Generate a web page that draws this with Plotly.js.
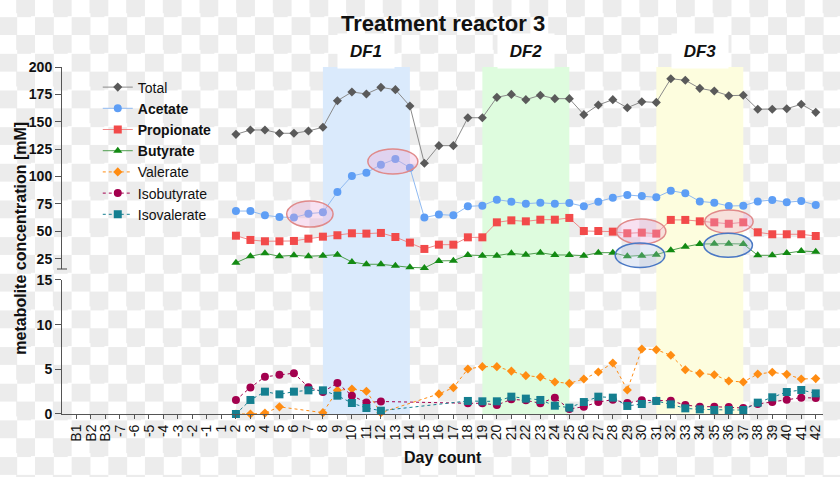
<!DOCTYPE html>
<html>
<head>
<meta charset="utf-8">
<script src="https://cdn.plot.ly/plotly-3.0.1.min.js"></script>
<style>
html,body{margin:0;padding:0;}
body{
  width:840px;height:477px;overflow:hidden;
  background-image:repeating-conic-gradient(#ececec 0% 25%, #ffffff 0% 50%);
  background-size:36.67px 36.67px;
  background-position:-1.67px -1.67px;
}
#chart{width:840px;height:477px;}
</style>
</head>
<body>
<div id="chart"></div>
<script>
// ---- categories (x axis tick labels) ----
const categories = ['B1','B2','B3','-7','-6','-5','-4','-3','-2','-1','1',
  '2','3','4','5','6','7','8','9','10','11','12','13','14','15','16','17','18','19','20',
  '21','22','23','24','25','26','27','28','29','30','31','32','33','34','35','36','37','38','39','40','41','42'];

// no measurements for B1..B3, -7..-1 and day 1
const noData = [null,null,null,null,null,null,null,null,null,null,null];

// ---- upper panel series (days 2..42) ----
const total = [138.5,142.5,142.5,139.5,139.5,141.6,145,169.2,177.2,
  175.4,181.4,179.3,164.4,112.1,128.2,128.2,153.7,153.7,172.3,
  175,170.2,174.2,171.1,171.1,156.5,165.3,170.2,162.8,168.3,
  167.7,189.3,187.9,180.5,178.1,173.8,174.2,161.4,161.4,161.9,166,158.6];
const acetate = [68.5,68.5,64.6,63.1,62.5,66.1,67.3,85.9,100.5,
  103.5,110.8,116,108.1,62.5,65.3,64.6,72.8,73.4,78.9,
  77,75.2,76.1,75.2,75.8,72.8,77,80.7,83.2,82.2,
  81,87.1,84.7,77.3,76.1,73.1,73.4,77.3,78.6,76.5,77.7,74];
const propionate = [46,42.1,40.9,40.9,41.2,43.3,45.1,46.4,48.2,
  47.9,48.5,44.8,39.7,33.9,37.8,37.8,44.5,44.5,58.2,
  60,59.1,60.6,60.6,62.2,50.3,50.3,49.7,48.2,48.8,
  47.9,60.4,60.4,59.1,58.2,56.9,58.2,49.1,47.3,47.3,47.3,45.7];
const butyrate = [21.3,27.2,29.9,27.2,28.1,27.2,27.8,28.7,22,
  19.9,19.9,18.6,17.1,16.6,23,23.2,28.4,27.8,27.8,
  29.9,28.7,30.5,28.4,28.4,27.8,30.5,30.5,27.2,27.8,
  28.7,32.6,35.9,38.4,38.7,38.7,38.4,28.1,28.1,30.2,32,31.4];

// ---- lower panel series (days 2..42) ----
const valerate = [0,0,0.1,0.8,null,null,0.15,2.65,2.8,
  2.54,0.15,null,null,null,2.25,2.95,5.04,5.3,5.3,
  4.8,4.29,4.14,3.58,3.43,3.92,4.7,5.71,2.69,7.28,
  7.2,6.57,4.96,4.55,4.4,3.7,3.58,4.48,4.67,4.44,3.92,3.96];
const isobutyrate = [1.57,2.97,4.16,4.4,4.57,3.0,2.45,3.48,2.05,
  1.29,1.4,null,null,null,null,null,1.2,1.2,1.0,
  1.64,1.53,1.2,1.83,0.56,0.82,1.34,1.6,1.23,1.53,
  1.49,1.49,1.0,0.82,0.82,0.78,0.67,1.12,1.34,1.6,1.83,1.79];
const isovalerate = [0,1.57,2.5,2.2,2.5,2.65,2.65,2.05,1.23,
  0.67,0.37,null,null,null,null,null,1.46,1.42,1.42,
  1.94,1.72,1.57,0.93,0.71,1.34,1.94,1.83,0.9,1.12,
  1.46,1.08,0.63,0.52,0.45,0.45,0.45,1.27,1.87,2.46,2.69,2.31];

// ---- feeding periods ----
const periods = [
  {label:'DF1', start:'8',  end:'14', color:'rgb(218,234,252)'},
  {label:'DF2', start:'19', end:'25', color:'rgb(222,252,222)'},
  {label:'DF3', start:'31', end:'37', color:'rgb(253,253,222)'}
];

const FONT = 'Liberation Sans, Arial, sans-serif';
const full = a => noData.concat(a);
const idx = c => categories.indexOf(c);

function upper(name, y, color, lineColor, symbol, size){
  return {type:'scatter', mode:'lines+markers', name:name, x:categories, y:full(y),
    xaxis:'x', yaxis:'y2', line:{color:lineColor, width:1},
    marker:{color:color, symbol:symbol, size:size}, cliponaxis:false};
}
function lower(name, y, color, symbol, size){
  return {type:'scatter', mode:'lines+markers', name:name, x:categories, y:full(y),
    xaxis:'x', yaxis:'y', connectgaps:true, line:{color:color, width:1, dash:'dot'},
    marker:{color:color, symbol:symbol, size:size}, cliponaxis:false};
}

const traces = [
  upper('Total', total, '#5a5a5a', '#8a8a8a', 'diamond', 7),
  upper('<b>Acetate</b>', acetate, '#5e9ef5', '#8fbaf2', 'circle', 8),
  upper('<b>Propionate</b>', propionate, '#f24a4a', '#f08a8a', 'square', 8),
  upper('<b>Butyrate</b>', butyrate, '#138a13', '#4e9e4e', 'triangle-up', 8),
  lower('Valerate', valerate, '#ff8c12', 'diamond', 7),
  lower('Isobutyrate', isobutyrate, '#a3004e', 'circle', 8),
  lower('Isovalerate', isovalerate, '#157f90', 'square', 8)
];

const shapes = [];
const annotations = [];
periods.forEach(p => {
  shapes.push({type:'rect', xref:'x', yref:'paper', x0:idx(p.start), x1:idx(p.end), y0:0, y1:1,
    fillcolor:p.color, line:{width:0}, layer:'below'});
  annotations.push({text:'<b><i>'+p.label+'</i></b>', xref:'x', yref:'paper',
    x:(idx(p.start)+idx(p.end))/2, y:1.0447, xanchor:'center', yanchor:'middle',
    showarrow:false, bgcolor:'#ffffff',
    width:54, height:32, font:{family:'Liberation Sans, Arial', size:17, color:'#111'}});
});

// highlight ellipses (in data coordinates of the upper panel)
const pinkFill = 'rgba(236,170,215,0.35)', pinkLine = '#e08a8a';
const blueFill = 'rgba(170,190,225,0.3)', blueLine = '#4a78c4';
[[14.5,17.7,53.9,77.7,'p'],[20.1,23.55,102.3,125.1,'p'],
 [37.26,40.66,38.4,61.2,'p'],[43.34,46.68,48.2,69.5,'p'],
 [37.16,40.59,16.9,39.4,'b'],[43.28,46.63,26.3,48.2,'b']].forEach(e => {
  shapes.push({type:'circle', xref:'x', yref:'y2', x0:e[0], x1:e[1], y0:e[2], y1:e[3],
    fillcolor: e[4]==='p'?pinkFill:blueFill, line:{color:e[4]==='p'?pinkLine:blueLine, width:1.5}});
});
// axis break mark
shapes.push({type:'line', xref:'paper', yref:'paper', x0:-0.0066, x1:0.0066, y0:0.4179, y1:0.4179,
  line:{color:'#444', width:1}});

annotations.push({text:'<b>metabolite concentration [mM]</b>', xref:'paper', yref:'paper',
  x:-0.0539, y:0.508, xanchor:'center', yanchor:'middle', textangle:-90, showarrow:false,
  font:{family:FONT, size:16, color:'#111'}});
annotations.push({text:'<b>Day count</b>', xref:'paper', yref:'paper',
  x:0.5007, y:-0.124, xanchor:'center', yanchor:'middle', showarrow:false,
  font:{family:FONT, size:16, color:'#111'}});

const layout = {
  width:840, height:477,
  margin:{l:62, r:17, t:67, b:63},
  paper_bgcolor:'rgba(0,0,0,0)', plot_bgcolor:'rgba(0,0,0,0)',
  font:{family:FONT, color:'#111'},
  title:{text:'<b>Treatment reactor 3</b>', font:{family:FONT, size:22, color:'#111'},
    xref:'paper', x:0.5007, xanchor:'center', yref:'container', y:0.952, yanchor:'middle'},
  showlegend:true,
  legend:{x:0.047, y:0.987, xanchor:'left', yanchor:'top', bgcolor:'rgba(0,0,0,0)',
    font:{family:FONT, size:14, color:'#111'}, itemwidth:30, tracegroupgap:0},
  xaxis:{type:'category', range:[-1, 51.5], anchor:'y', showline:true, linecolor:'#555',
    tickmode:'array', tickvals:categories, ticktext:categories,
    ticks:'outside', ticklen:4, tickcolor:'#555', tickangle:-90,
    tickfont:{family:FONT, size:14, color:'#111'}, showgrid:false, zeroline:false, fixedrange:true},
  yaxis:{domain:[0, 0.3862], range:[0, 15], tickvals:[0,5,10,15], showline:true, linecolor:'#555',
    ticks:'outside', ticklen:6, tickcolor:'#555', showgrid:false, zeroline:false,
    tickfont:{family:FONT, size:14, color:'#111', weight:'bold'}},
  yaxis2:{domain:[0.4179, 1], range:[15.6, 200], tickvals:[25,50,75,100,125,150,175,200],
    anchor:'x', showline:true, linecolor:'#555', ticks:'outside', ticklen:6, tickcolor:'#555',
    showgrid:false, zeroline:false, tickfont:{family:FONT, size:14, color:'#111', weight:'bold'}},
  shapes:shapes,
  annotations:annotations
};

Plotly.newPlot('chart', traces, layout, {displayModeBar:false, staticPlot:true});
</script>
</body>
</html>
